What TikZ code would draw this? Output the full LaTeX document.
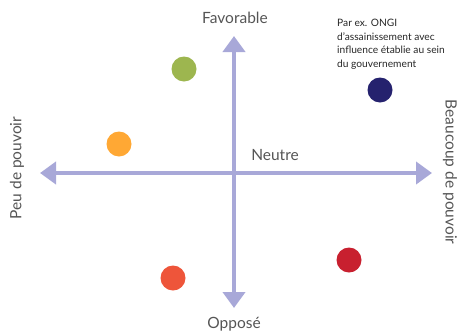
\documentclass[tikz,border=0pt]{standalone}
\usepackage{fontspec}
\setmainfont{Lato}
\usetikzlibrary{arrows.meta}
\definecolor{axiscol}{HTML}{A8A8D8}
\definecolor{cgreen}{HTML}{9DB64F}
\definecolor{corange}{HTML}{FFA834}
\definecolor{cnavy}{HTML}{25226E}
\definecolor{cred}{HTML}{C8202F}
\definecolor{corred}{HTML}{EE553A}
\definecolor{txtcol}{HTML}{555555}
\begin{document}
\begin{tikzpicture}[x=1pt,y=-1pt,
  axis/.style={draw=axiscol,line width=4pt,{Triangle[length=16pt,width=22pt]}-{Triangle[length=16pt,width=22pt]}},
  dot/.style={circle,inner sep=0pt,minimum size=25pt,draw=none},
  lbl/.style={text=txtcol,font=\fontsize{15.5}{18}\selectfont,inner sep=0pt},
  note/.style={text=black!85,font=\fontsize{10.2}{13.6}\selectfont,align=left,inner sep=0pt,anchor=north west}]
\useasboundingbox (0,0) rectangle (460,335);
\coordinate (L) at (40,173);
\coordinate (R) at (432,173);
\coordinate (T) at (234,36);
\coordinate (B) at (234,308);
\draw[axis] (L) -- (R);
\draw[axis] (B) -- (T);
\node[lbl] (fav) at (235,18) {Favorable};
\node[lbl] (opp) at (234,324) {Opposé};
\node[lbl] (neu) at (275,155) {Neutre};
\node[lbl,rotate=90] (peu) at (17,168) {Peu de pouvoir};
\node[lbl,rotate=-90] (beau) at (450,172) {Beaucoup de pouvoir};
\node[dot,fill=cgreen] (g) at (184,69) {};
\node[dot,fill=corange] (o) at (119,144) {};
\node[dot,fill=cnavy] (n) at (380,90) {};
\node[dot,fill=cred] (r) at (349,260) {};
\node[dot,fill=corred] (or) at (173,278) {};
\node[note] (txt) at (337,19) {Par ex. ONGI\\d'assainissement avec\\influence établie au sein\\du gouvernement};
\end{tikzpicture}
\end{document}
